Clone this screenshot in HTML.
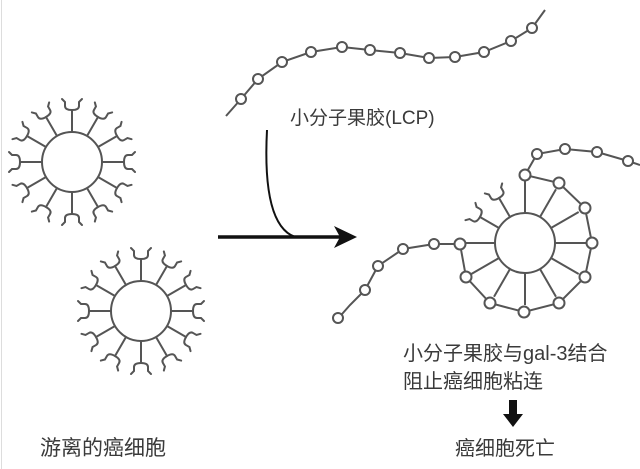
<!DOCTYPE html>
<html><head><meta charset="utf-8"><style>
html,body{margin:0;padding:0;background:#fff;}
svg{display:block;}
text{font-family:"Liberation Sans","Noto Sans CJK SC",sans-serif;fill:#3a3a3a;}
</style></head><body>
<svg width="640" height="469" viewBox="0 0 640 469" xmlns="http://www.w3.org/2000/svg">
<defs>
<g id="rec" fill="none" stroke="#555" stroke-width="2" stroke-linecap="round">
<line x1="0" y1="-30" x2="0" y2="-52"/>
<path d="M-10,-63 L-7,-60 L-7,-56 Q-7,-52 0,-52 Q7,-52 7,-56 L7,-60 L10,-63"/>
</g>
<g id="spk" stroke="#555" stroke-width="2"><line x1="0" y1="-30" x2="0" y2="-62"/></g>
<g id="cell">
<use href="#rec" transform="rotate(0)"/><use href="#rec" transform="rotate(30)"/><use href="#rec" transform="rotate(60)"/>
<use href="#rec" transform="rotate(90)"/><use href="#rec" transform="rotate(120)"/><use href="#rec" transform="rotate(150)"/>
<use href="#rec" transform="rotate(180)"/><use href="#rec" transform="rotate(210)"/><use href="#rec" transform="rotate(240)"/>
<use href="#rec" transform="rotate(270)"/><use href="#rec" transform="rotate(300)"/><use href="#rec" transform="rotate(330)"/>
<circle r="30" fill="#fff" stroke="#555" stroke-width="2"/>
</g>
</defs>
<line x1="1.5" y1="0" x2="1.5" y2="469" stroke="#ddd" stroke-width="1"/>
<use href="#cell" transform="translate(72,162)"/>
<use href="#cell" transform="translate(141,311)"/>

<g fill="#fff" stroke="#555" stroke-width="2">
<polyline fill="none" points="226,116 241,99 258,79 282,62 311,52 342,47 370,50 400,53 429,58 455,57 484,52 511,41 532,28 545,10"/>
<circle cx="241" cy="99" r="5"/><circle cx="258" cy="79" r="5"/><circle cx="282" cy="62" r="5"/><circle cx="311" cy="52" r="5"/>
<circle cx="342" cy="47" r="5"/><circle cx="370" cy="50" r="5"/><circle cx="400" cy="53" r="5"/><circle cx="429" cy="58" r="5"/>
<circle cx="455" cy="57" r="5"/><circle cx="484" cy="52" r="5"/><circle cx="511" cy="41" r="5"/><circle cx="532" cy="28" r="5"/>
</g>
<text x="290" y="124" font-size="19">小分子果胶(LCP)</text>

<path d="M267,130 Q262,225 295,237" fill="none" stroke="#111" stroke-width="2"/>
<line x1="218" y1="237" x2="340" y2="237" stroke="#111" stroke-width="3.5"/>
<path d="M334,226 L357,237 L334,248 L340,237 Z" fill="#111"/>

<g transform="translate(525,243)">
<use href="#rec" transform="rotate(-30)"/><use href="#rec" transform="rotate(-60)"/>
<use href="#spk" transform="rotate(0)"/><use href="#spk" transform="rotate(30)"/><use href="#spk" transform="rotate(60)"/>
<use href="#spk" transform="rotate(90)"/><use href="#spk" transform="rotate(120)"/><use href="#spk" transform="rotate(150)"/>
<use href="#spk" transform="rotate(180)"/><use href="#spk" transform="rotate(210)"/><use href="#spk" transform="rotate(240)"/>
<use href="#spk" transform="rotate(270)"/>
<circle r="30" fill="#fff" stroke="#555" stroke-width="2"/>
</g>
<g fill="#fff" stroke="#555" stroke-width="2">
<polyline fill="none" points="640,165 628,161 597,152 565,149 537,154 525,175 559,183 585,208 592,243 585,277 559,303 524,312 490,303 466,277 460,244 434,244 403,249 378,266 365,290 350,305 335,322"/>
<circle cx="628" cy="161" r="5"/><circle cx="597" cy="152" r="5"/><circle cx="565" cy="149" r="5"/><circle cx="537" cy="154" r="5"/>
<circle cx="525" cy="175" r="5.5"/><circle cx="559" cy="183" r="5.5"/><circle cx="585" cy="208" r="5.5"/><circle cx="592" cy="243" r="5.5"/>
<circle cx="585" cy="277" r="5.5"/><circle cx="559" cy="303" r="5.5"/><circle cx="524" cy="312" r="5.5"/><circle cx="490" cy="303" r="5.5"/>
<circle cx="466" cy="277" r="5.5"/><circle cx="460" cy="244" r="5.5"/>
<circle cx="434" cy="244" r="5"/><circle cx="403" cy="249" r="5"/><circle cx="378" cy="266" r="5"/><circle cx="365" cy="290" r="5"/><circle cx="338" cy="318" r="5"/>
</g>

<text x="403" y="360" font-size="20">小分子果胶与gal-3结合</text>
<text x="403" y="388" font-size="20">阻止癌细胞粘连</text>
<path d="M509,400 h8 v14 h6 l-10,13 l-10,-13 h6 z" fill="#111"/>
<text x="455" y="455" font-size="20">癌细胞死亡</text>
<text x="40" y="455" font-size="21">游离的癌细胞</text>
</svg>
</body></html>
